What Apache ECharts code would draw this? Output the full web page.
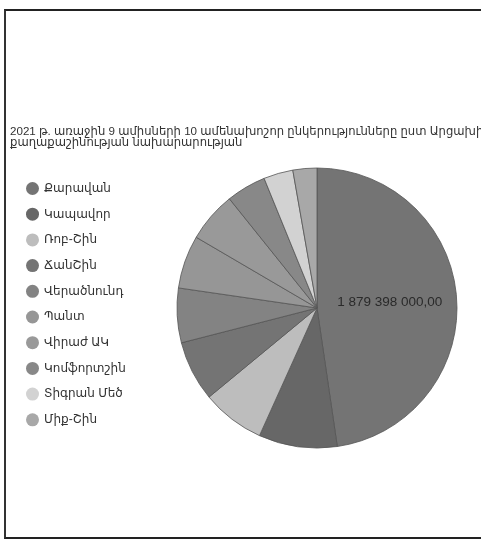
<!DOCTYPE html>
<html>
<head>
<meta charset="utf-8">
<script src="https://cdn.jsdelivr.net/npm/echarts@6/dist/echarts.min.js"></script>
<style>
html,body{margin:0;padding:0;background:#fff;overflow:hidden;}
#frame{position:absolute;left:4px;top:9px;width:475px;height:526px;border-left:2px solid #333;border-top:2px solid #222;border-bottom:2px solid #222;}
#chart{position:absolute;left:0;top:0;width:481px;height:541px;}
</style>
</head>
<body>
<div id="frame"></div>
<div id="chart"></div>
<script>
const titleText = '2021 թ. առաջին 9 ամիսների 10 ամենախոշոր ընկերությունները ըստ Արցախի\nքաղաքաշինության նախարարության';
const categories = ['Քարավան','Կապավոր','Ռոբ-Շին','ՃանՇին','Վերածնունդ','Պանտ','Վիրաժ ԱԿ','Կոմֆորտշին','Տիգրան Մեծ','Միք-Շին'];
const values = [1879398000, 357000000, 287000000, 275000000, 248000000, 242000000, 229000000, 181000000, 134000000, 109000000];
const colors = ['#747474','#676767','#bdbdbd','#747474','#838383','#969696','#999999','#888888','#d2d2d2','#a8a8a8'];

function fmt(v){
  const s = Math.round(v).toString().replace(/\B(?=(\d{3})+(?!\d))/g, ' ');
  return s + ',00';
}

const chart = echarts.init(document.getElementById('chart'), null, {renderer:'canvas'});
const fontFam = 'Liberation Sans, DejaVu Sans, Arial, sans-serif';
chart.setOption({
  animation:false,
  backgroundColor:'transparent',
  title:{
    text:titleText,
    left:5, top:122,
    textStyle:{fontSize:11.6, fontWeight:'normal', color:'#333', lineHeight:10.5, fontFamily:fontFam}
  },
  legend:{
    orient:'vertical',
    left:21, top:177,
    icon:'circle',
    itemWidth:13, itemHeight:13, itemGap:12.7,
    itemStyle:{borderWidth:0},
    textStyle:{fontSize:12, color:'#333', lineHeight:13, fontFamily:fontFam},
    data:categories
  },
  series:[{
    type:'pie',
    center:[317,308],
    radius:140,
    startAngle:90,
    clockwise:true,
    itemStyle:{borderColor:'#555', borderWidth:0.8},
    label:{show:false},
    labelLine:{show:false},
    emphasis:{disabled:true},
    data:categories.map((c,i)=>({
      name:c, value:values[i],
      itemStyle:{color:colors[i]},
      label: i===0 ? {show:true, position:'inside', formatter:p=>fmt(p.value), fontSize:13.5, color:'#2a2a2a', fontFamily:fontFam} : {show:false}
    }))
  }]
});
</script>
</body>
</html>
